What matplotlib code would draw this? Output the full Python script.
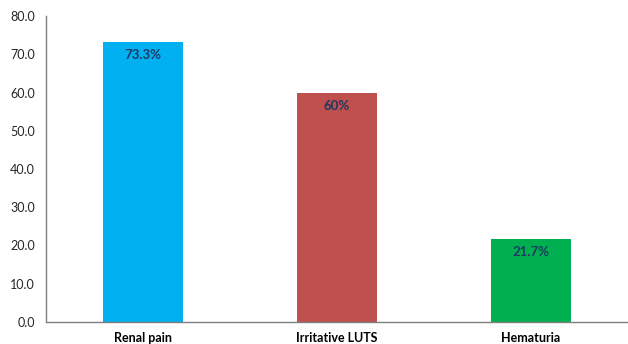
import matplotlib
matplotlib.use("Agg")
import matplotlib.pyplot as plt

categories = ["Renal pain", "Irritative LUTS", "Hematuria"]
values = [73.3, 60.0, 21.7]
labels = ["73.3%", "60%", "21.7%"]
colors = ["#00B0F0", "#C0504D", "#00B050"]
yticks = [0, 10, 20, 30, 40, 50, 60, 70, 80]

plt.rcParams['font.family'] = ['Lato', 'DejaVu Sans']
fig = plt.figure(figsize=(6.28, 3.44), dpi=100)
ax = fig.add_axes([46/628, 1-322/344, 1-46/628, (322-16)/344])
x = range(len(categories))
bars = ax.bar(x, values, width=0.41, color=colors)
for b, lab in zip(bars, labels):
    ax.annotate(lab, (b.get_x()+b.get_width()/2, b.get_height()), xytext=(0, -9.5),
                textcoords='offset points', ha='center', va='center',
                fontsize=9.5, fontweight='bold', color='#1F3864')
ax.set_xlim(-0.5, 2.5)
ax.set_ylim(0, 80)
ax.set_yticks(yticks)
ax.set_yticklabels([f"{v:.1f}" for v in yticks], fontsize=9, color='#262626')
ax.set_xticks(list(x))
ax.set_xticklabels(categories, fontsize=9, fontweight='bold', color='#000000')
ax.tick_params(axis='x', length=0, pad=7)
ax.tick_params(axis='y', length=0, pad=8)
for s in ['top', 'right']:
    ax.spines[s].set_visible(False)
for s in ['left', 'bottom']:
    ax.spines[s].set_color('#7F7F7F')
    ax.spines[s].set_linewidth(1)
fig.savefig("out.png", dpi=100)
